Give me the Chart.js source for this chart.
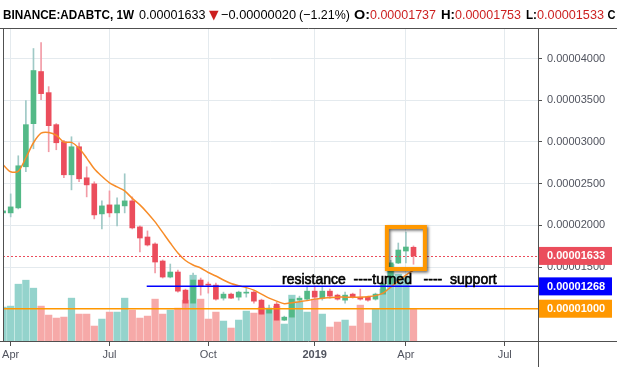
<!DOCTYPE html>
<html>
<head>
<meta charset="utf-8">
<script src="https://cdn.jsdelivr.net/npm/chart.js@4.4.0/dist/chart.umd.min.js"></script>
<style>
  html, body { margin: 0; padding: 0; background: #fff; }
</style>
</head>
<body>
<canvas id="myChart" width="617" height="367"></canvas>
<script>
// BINANCE:ADABTC weekly candles, prices in satoshi (1e-8 BTC)
const weekStarts = [
    '2018-03-26', '2018-04-02', '2018-04-09', '2018-04-16', '2018-04-23', '2018-04-30', '2018-05-07',
    '2018-05-14', '2018-05-21', '2018-05-28', '2018-06-04', '2018-06-11', '2018-06-18', '2018-06-25',
    '2018-07-02', '2018-07-09', '2018-07-16', '2018-07-23', '2018-07-30', '2018-08-06', '2018-08-13',
    '2018-08-20', '2018-08-27', '2018-09-03', '2018-09-10', '2018-09-17', '2018-09-24', '2018-10-01',
    '2018-10-08', '2018-10-15', '2018-10-22', '2018-10-29', '2018-11-05', '2018-11-12', '2018-11-19',
    '2018-11-26', '2018-12-03', '2018-12-10', '2018-12-17', '2018-12-24', '2018-12-31', '2019-01-07',
    '2019-01-14', '2019-01-21', '2019-01-28', '2019-02-04', '2019-02-11', '2019-02-18', '2019-02-25',
    '2019-03-04', '2019-03-11', '2019-03-18', '2019-03-25', '2019-04-01', '2019-04-08'
];
const openSat = [2149, 2149, 2209, 2702, 3219, 3844, 3591, 3207, 3002, 2606, 2942, 2570, 2497, 2137,
    2245, 2149, 2233, 2293, 1981, 1860, 1776, 1572, 1380, 1440, 1223, 1067, 1344, 1295, 1283, 1127,
    1175, 1139, 1187, 1199, 1103, 947, 1055, 863, 899, 1103, 1115, 1211, 1127, 1211, 1163, 1103,
    1175, 1139, 1139, 1115, 1175, 1295, 1548, 1692, 1737];
const highSat = [2197, 2377, 2834, 3495, 4120, 4192, 3663, 3220, 3020, 3062, 2990, 2702, 2522, 2293,
    2413, 2329, 2618, 2341, 1993, 1933, 1790, 1584, 1536, 1464, 1235, 1428, 1368, 1320, 1307, 1199,
    1187, 1211, 1259, 1211, 1115, 1043, 1079, 911, 1139, 1151, 1259, 1271, 1259, 1235, 1175, 1199,
    1187, 1235, 1151, 1187, 1307, 1580, 1788, 1920, 1753];
const lowSat = [2125, 2101, 2197, 2642, 2918, 3507, 2882, 2906, 2570, 2425, 2522, 2341, 2077, 1957,
    2101, 1993, 2149, 1957, 1680, 1752, 1428, 1368, 1370, 1199, 995, 995, 1163, 1187, 1103, 1103,
    1120, 1103, 1139, 1067, 930, 935, 860, 858, 887, 995, 1103, 1090, 1103, 1127, 1103, 1067,
    1127, 1103, 1091, 1103, 1163, 1283, 1540, 1548, 1533];
const closeSat = [2173, 2221, 2714, 3207, 3856, 3579, 3195, 2990, 2606, 2942, 2558, 2485, 2125, 2233,
    2149, 2245, 2293, 1969, 1848, 1764, 1560, 1380, 1440, 1211, 1067, 1344, 1271, 1283, 1115, 1175,
    1127, 1199, 1199, 1091, 935, 1007, 863, 899, 1115, 1127, 1211, 1139, 1211, 1151, 1115, 1163,
    1139, 1115, 1103, 1175, 1295, 1550, 1704, 1740, 1633];
const volumeM = [340, 350, 570, 610, 530, 350, 260, 230, 240, 430, 270, 270, 150, 220, 290, 290, 430,
    310, 230, 250, 420, 270, 310, 330, 410, 660, 420, 220, 290, 200, 130, 210, 300, 280, 340, 320,
    350, 170, 460, 390, 290, 420, 270, 140, 190, 210, 150, 360, 180, 320, 520, 770, 670, 650, 320];
const emaSat = [2726, 2642, 2648, 2810, 2990, 3105, 3114, 3080, 2998, 2994, 2924, 2806, 2678, 2588,
    2510, 2461, 2413, 2323, 2245, 2149, 2041, 1915, 1788, 1668, 1578, 1524, 1488, 1434, 1392, 1344,
    1302, 1275, 1253, 1223, 1175, 1127, 1091, 1061, 1073, 1085, 1097, 1115, 1127, 1133, 1139, 1139,
    1139, 1139, 1145, 1157, 1187, 1259, 1332, 1404, 1464];

const priceTicks = [1500, 2000, 2500, 3000, 3500, 4000];
const tickWeeks = [1, 14, 27, 41, 53, 66];
const tickLabels = ['Apr', 'Jul', 'Oct', '2019', 'Apr', 'Jul'];

// drawn levels and notes
const lastPrice = 1633;
const resistance = 1268;
const resistanceFromWeek = 18.9;
const support = 1000;
const boxWeeks = [50.5, 55.5];
const boxPrices = [1476, 1980];
const noteText = 'resistance  ----turned   ----  support';
const noteWeek = 36.7;
const notePrice = 1296;

const UP = '#53b987', DOWN = '#eb4d5c';
const UP_WICK = '#9fc9c6', DOWN_WICK = '#f29ba6';
const UP_VOL = '#94d3cc', DOWN_VOL = '#f6a9a8';
const FONT = "'Liberation Sans', Arial, sans-serif";

const isUp = closeSat.map((c, i) => c >= openSat[i]);

function hline(ctx, x1, x2, y, color, width, dash) {
    ctx.save();
    ctx.strokeStyle = color;
    ctx.lineWidth = width;
    ctx.setLineDash(dash);
    ctx.beginPath();
    ctx.moveTo(x1, y);
    ctx.lineTo(x2, y);
    ctx.stroke();
    ctx.restore();
}

function fitText(ctx, text, x, w, y, font, color) {
    ctx.save();
    ctx.font = font;
    ctx.fillStyle = color;
    const m = ctx.measureText(text).width;
    ctx.translate(x, y);
    if (w) ctx.scale(w / m, 1);
    ctx.fillText(text, 0, 0);
    ctx.restore();
}

const overlay = {
    id: 'overlay',
    afterDatasetsDraw(chart) {
        const { ctx, chartArea: a, scales: { x, y } } = chart;
        ctx.save();
        ctx.beginPath();
        ctx.rect(a.left, a.top, a.right - a.left, a.bottom - a.top);
        ctx.clip();

        hline(ctx, a.left, a.right, Math.round(y.getPixelForValue(lastPrice)) + 0.5, DOWN, 1, [2, 2]);
        hline(ctx, x.getPixelForValue(resistanceFromWeek), a.right, y.getPixelForValue(resistance), '#0000ff', 1.5, []);
        hline(ctx, a.left, a.right, y.getPixelForValue(support), '#ff9800', 1.5, []);

        // highlight box
        const bx1 = x.getPixelForValue(boxWeeks[0]), bx2 = x.getPixelForValue(boxWeeks[1]);
        const by1 = y.getPixelForValue(boxPrices[1]), by2 = y.getPixelForValue(boxPrices[0]);
        ctx.save();
        ctx.shadowColor = 'rgba(0,0,0,0.6)';
        ctx.shadowBlur = 3;
        ctx.shadowOffsetX = 1.5;
        ctx.shadowOffsetY = 1.5;
        ctx.strokeStyle = '#ff9800';
        ctx.lineWidth = 4;
        ctx.strokeRect(bx1, by1, bx2 - bx1, by2 - by1);
        ctx.restore();

        // note text, slightly heavier like the original
        const tx = x.getPixelForValue(noteWeek), ty = y.getPixelForValue(notePrice);
        ctx.font = '14px ' + FONT;
        ctx.textBaseline = 'alphabetic';
        ctx.lineWidth = 0.6;
        ctx.strokeStyle = '#000';
        ctx.fillStyle = '#000';
        ctx.strokeText(noteText, tx, ty);
        ctx.fillText(noteText, tx, ty);
        ctx.restore();
    },
    afterDraw(chart) {
        const { ctx, chartArea: a, scales: { y } } = chart;
        const W = chart.width, H = chart.height;
        ctx.save();
        ctx.strokeStyle = '#505050';
        ctx.lineWidth = 1;
        ctx.beginPath();
        ctx.moveTo(0, a.top + 0.5); ctx.lineTo(W, a.top + 0.5);
        ctx.moveTo(0, a.bottom + 0.5); ctx.lineTo(W, a.bottom + 0.5);
        ctx.moveTo(a.left + 0.5, a.top); ctx.lineTo(a.left + 0.5, a.bottom);
        ctx.moveTo(a.right + 0.5, a.top); ctx.lineTo(a.right + 0.5, H);
        ctx.stroke();

        // price axis tags
        const tags = [[lastPrice, DOWN], [resistance, '#0000ff'], [support, '#ff9800']];
        tags.forEach(([v, c]) => {
            const py = y.getPixelForValue(v);
            ctx.fillStyle = c;
            ctx.fillRect(a.right + 1, py - 9, 73, 18);
            ctx.fillStyle = '#fff';
            ctx.font = 'bold 11px ' + FONT;
            ctx.textBaseline = 'middle';
            ctx.fillText((v * 1e-8).toFixed(8), a.right + 9, py + 0.5);
        });

        // header legend
        ctx.textBaseline = 'alphabetic';
        const red = '#cc1f1f';
        const parts = [
            ['BINANCE:ADABTC, 1W', 3, 131, 'bold', '#000'],
            ['0.00001633', 139, 66.5, 'normal', '#000'],
            ['\u25BC', 209, 9.6, 'normal', red, "'DejaVu Sans'"],
            ['\u22120.00000020', 221, 75, 'normal', '#000'],
            ['(\u22121.21%)', 299, 51, 'normal', '#000'],
            ['O:', 354, 16, 'bold', '#000'],
            ['0.00001737', 370, 66, 'normal', red],
            ['H:', 441, 14, 'bold', '#000'],
            ['0.00001753', 455, 66, 'normal', red],
            ['L:', 526, 11, 'bold', '#000'],
            ['0.00001533', 537, 67, 'normal', red],
            ['C', 607.5, 8, 'bold', '#000']
        ];
        parts.forEach(p => fitText(ctx, p[0], p[1], p[2], 19, p[3] + ' 13px ' + (p[5] || FONT), p[4]));
        ctx.restore();
    }
};

const ctx = document.getElementById('myChart').getContext('2d');
const chartInstance = new Chart(ctx, {
    type: 'bar',
    data: {
        datasets: [
            {
                type: 'line',
                label: 'EMA',
                data: emaSat.map((v, i) => ({ x: i, y: v })),
                borderColor: '#f78c28',
                borderWidth: 1.5,
                pointRadius: 0,
                tension: 0.3,
                yAxisID: 'y',
                order: 0
            },
            {
                label: 'Body',
                data: weekStarts.map((d, i) => ({ x: i, y: [openSat[i], closeSat[i]] })),
                backgroundColor: isUp.map(u => u ? UP : DOWN),
                barThickness: 5,
                minBarLength: 1,
                grouped: false,
                yAxisID: 'y',
                order: 1
            },
            {
                label: 'Wick',
                data: weekStarts.map((d, i) => ({ x: i, y: [lowSat[i], highSat[i]] })),
                backgroundColor: isUp.map(u => u ? UP_WICK : DOWN_WICK),
                barThickness: 1,
                grouped: false,
                yAxisID: 'y',
                order: 2
            },
            {
                label: 'Volume',
                data: weekStarts.map((d, i) => ({ x: i, y: volumeM[i] })),
                backgroundColor: isUp.map(u => u ? UP_VOL : DOWN_VOL),
                barThickness: 6.6,
                grouped: false,
                yAxisID: 'vol',
                order: 3
            }
        ]
    },
    options: {
        responsive: false,
        animation: false,
        devicePixelRatio: 1,
        layout: { padding: { top: 28, left: 3, right: 0, bottom: 0 } },
        plugins: { legend: { display: false }, tooltip: { enabled: false } },
        scales: {
            x: {
                type: 'linear',
                min: -0.01,
                max: 70.38,
                offset: false,
                afterBuildTicks: s => { s.ticks = tickWeeks.map(v => ({ value: v })); },
                afterFit: s => { s.height = 26; },
                grid: { color: '#e4eaee', tickColor: '#505050', tickLength: 5, offset: false },
                border: { display: false },
                ticks: {
                    autoSkip: false,
                    maxRotation: 0,
                    padding: 2,
                    color: '#50535e',
                    font: c => ({ family: FONT, size: 11, weight: tickLabels[c.index] === '2019' ? 'bold' : 'normal' }),
                    callback: (v, i) => tickLabels[i]
                }
            },
            y: {
                position: 'right',
                min: 613,
                max: 4366,
                afterBuildTicks: s => { s.ticks = priceTicks.map(v => ({ value: v })); },
                afterFit: s => { s.width = 79; },
                grid: { color: '#e4eaee', tickColor: '#505050', tickLength: 4 },
                border: { display: false },
                ticks: {
                    padding: 5,
                    color: '#50535e',
                    font: { family: FONT, size: 11 },
                    callback: v => (v * 1e-8).toFixed(8)
                }
            },
            vol: { display: false, min: 0, max: 3140 }
        }
    },
    plugins: [overlay]
});
</script>
</body>
</html>
